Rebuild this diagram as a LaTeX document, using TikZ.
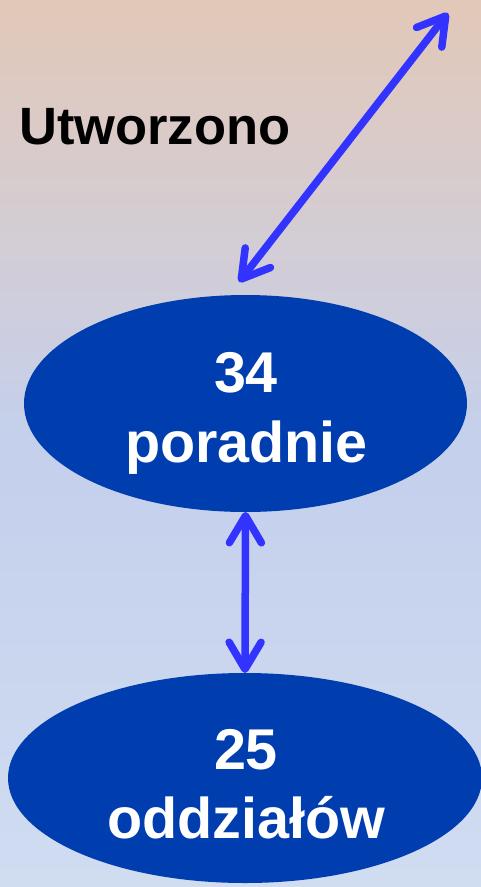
\documentclass[tikz,border=0pt]{standalone}
\usepackage{fontspec}
\setmainfont{Liberation Sans}
\usetikzlibrary{shapes.geometric,arrows.meta}
\definecolor{bgtop}{HTML}{E2C8B8}
\definecolor{bgmid}{HTML}{D6CCD0}
\definecolor{bgblue}{HTML}{C4D0EC}
\definecolor{bgbot}{HTML}{D0DCF0}
\definecolor{ellblue}{HTML}{003DAE}
\definecolor{arrblue}{HTML}{3333FF}
\pgfdeclareverticalshading{bgshade}{100bp}{color(0bp)=(bgbot); color(25bp)=(bgbot); color(50.2bp)=(bgblue); color(63.7bp)=(bgmid); color(75bp)=(bgtop); color(100bp)=(bgtop)}
\tikzset{
  oval/.style={ellipse, fill=ellblue, draw=none, inner sep=0pt, outer sep=0pt},
  bigtxt/.style={text=white, font=\bfseries\fontsize{57.5}{70}\selectfont, inner sep=0pt, anchor=base},
  conn/.style={draw=arrblue, line width=7.5pt, line cap=round,
    {Straight Barb[length=27pt, width=32pt, round]}-{Straight Barb[length=27pt, width=32pt, round]}}
}
\begin{document}
\begin{tikzpicture}[x=1pt, y=-1pt]
\useasboundingbox (0,0) rectangle (481,887);
\shade[shading=bgshade] (0,0) rectangle (481,887);
\node[oval, minimum width=443pt, minimum height=217pt] (e1) at (245.5,403.5) {};
\node[oval, minimum width=474pt, minimum height=210pt] (e2) at (245,778) {};
\node[bigtxt] (n34) at (246,392) {34};
\node[bigtxt] (por) at (246.5,462) {poradnie};
\node[bigtxt] (n25) at (246,769) {25};
\node[bigtxt] (odd) at (246.5,838) {oddziałów};
\node[inner sep=0pt, anchor=base west, font=\bfseries\fontsize{52.5}{60}\selectfont] (utw) at (19,144) {Utworzono};
\coordinate (low) at (239,282);
\coordinate (high) at (448,13);
\draw[conn] (low) -- (high);
\draw[conn] (e1.south) -- (e2.north);
\end{tikzpicture}
\end{document}
